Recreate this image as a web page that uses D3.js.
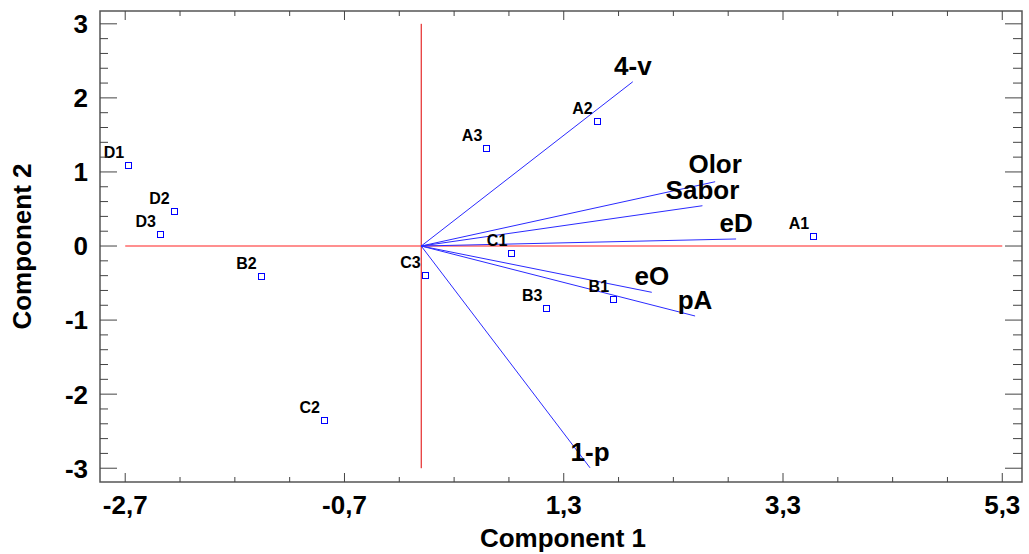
<!DOCTYPE html>
<html>
<head>
<meta charset="utf-8">
<script src="https://cdn.jsdelivr.net/npm/d3@7"></script>
<style>
  body { margin: 0; background: #fff; }
  svg { display: block; font-family: "Liberation Sans", Arial, sans-serif; }
</style>
</head>
<body>
<div id="chart"></div>
<script>
// observations (scores)
const obsNames = ['A1', 'A2', 'A3', 'B1', 'B2', 'B3', 'C1', 'C2', 'C3', 'D1', 'D2', 'D3'];
const obsPC1 = [3.584, 1.610, 0.603, 1.759, -1.455, 1.151, 0.831, -0.878, 0.041, -2.663, -2.249, -2.374];
const obsPC2 = [0.126, 1.678, 1.310, -0.733, -0.414, -0.850, -0.108, -2.358, -0.405, 1.084, 0.463, 0.148];

// variables (loadings, scaled)
const varNames = ['4-v', 'Olor', 'Sabor', 'eD', 'eO', 'pA', '1-p'];
const varPC1 = [1.930, 2.681, 2.565, 2.872, 2.103, 2.498, 1.540];
const varPC2 = [2.218, 0.868, 0.544, 0.095, -0.625, -0.945, -2.995];

const xTicks = [-2.7, -0.7, 1.3, 3.3, 5.3];
const yTicks = [-3, -2, -1, 0, 1, 2, 3];

const W = 1029, H = 554;
const pL = 100, pR = 1022, pT = 11, pB = 482;

const svg = d3.select('#chart').append('svg')
    .attr('width', W)
    .attr('height', H);

const x = d3.scaleLinear().domain([-2.93, 5.48]).range([pL, pR]);
const y = d3.scaleLinear().domain([-3.186, 3.173]).range([pB, pT]);

const big = '26px';
const fmtX = d => d.toFixed(1).replace('.', ',');

// reference lines through the origin
svg.append('line')
    .attr('x1', x(-2.7)).attr('x2', x(5.3))
    .attr('y1', y(0)).attr('y2', y(0))
    .attr('stroke', '#ff2020').attr('stroke-width', 1.2);
svg.append('line')
    .attr('x1', x(0)).attr('x2', x(0))
    .attr('y1', y(3)).attr('y2', y(-3))
    .attr('stroke', '#e00000').attr('stroke-width', 1);

// vectors
svg.selectAll('line.vec')
    .data(varNames)
    .enter().append('line')
    .attr('class', 'vec')
    .attr('x1', x(0)).attr('y1', y(0))
    .attr('x2', (d, i) => x(varPC1[i]))
    .attr('y2', (d, i) => y(varPC2[i]))
    .attr('stroke', '#2a2aff').attr('stroke-width', 1);

svg.selectAll('text.vlab')
    .data(varNames)
    .enter().append('text')
    .attr('class', 'vlab')
    .attr('x', (d, i) => x(varPC1[i]))
    .attr('y', (d, i) => y(varPC2[i]) - (d === 'Olor' ? 9 : 7))
    .attr('text-anchor', 'middle')
    .style('font-size', big).style('font-weight', 'bold')
    .text(d => d);

// points
svg.selectAll('rect.pt')
    .data(obsNames)
    .enter().append('rect')
    .attr('class', 'pt')
    .attr('x', (d, i) => Math.round(x(obsPC1[i])) - 3.5)
    .attr('y', (d, i) => Math.round(y(obsPC2[i])) - 3.5)
    .attr('width', 6).attr('height', 6)
    .attr('fill', '#fff').attr('stroke', '#0000ff').attr('stroke-width', 1);

svg.selectAll('text.plab')
    .data(obsNames)
    .enter().append('text')
    .attr('class', 'plab')
    .attr('x', (d, i) => x(obsPC1[i]) - 5)
    .attr('y', (d, i) => y(obsPC2[i]) - 8)
    .attr('text-anchor', 'end')
    .style('font-size', '16px').style('font-weight', 'bold')
    .text(d => d);

// frame
svg.append('rect')
    .attr('x', pL).attr('y', pT)
    .attr('width', pR - pL).attr('height', pB - pT)
    .attr('fill', 'none').attr('stroke', '#555').attr('stroke-width', 1.5);

// ticks
const xMinor = d3.range(-2.7, 5.31, 0.5);
const yMinor = d3.range(-3, 3.01, 0.2);
const tickColor = '#444';

svg.selectAll('line.xt')
    .data(xMinor)
    .enter().append('line')
    .attr('class', 'xt')
    .attr('x1', d => x(d)).attr('x2', d => x(d))
    .attr('y1', pB)
    .attr('y2', (d, i) => pB - (i % 4 === 0 ? 9 : 5))
    .attr('stroke', tickColor);
svg.selectAll('line.xtt')
    .data(xMinor)
    .enter().append('line')
    .attr('class', 'xtt')
    .attr('x1', d => x(d)).attr('x2', d => x(d))
    .attr('y1', pT)
    .attr('y2', (d, i) => pT + (i % 4 === 0 ? 9 : 5))
    .attr('stroke', tickColor);
svg.selectAll('line.yt')
    .data(yMinor)
    .enter().append('line')
    .attr('class', 'yt')
    .attr('y1', d => y(d)).attr('y2', d => y(d))
    .attr('x1', pL)
    .attr('x2', (d, i) => pL + (i % 5 === 0 ? 17 : 8))
    .attr('stroke', tickColor);
svg.selectAll('line.ytr')
    .data(yMinor)
    .enter().append('line')
    .attr('class', 'ytr')
    .attr('y1', d => y(d)).attr('y2', d => y(d))
    .attr('x1', pR)
    .attr('x2', (d, i) => pR - (i % 5 === 0 ? 17 : 9))
    .attr('stroke', tickColor);

// tick labels
svg.selectAll('text.xl')
    .data(xTicks)
    .enter().append('text')
    .attr('class', 'xl')
    .attr('x', d => x(d)).attr('y', 514)
    .attr('text-anchor', 'middle')
    .style('font-size', big).style('font-weight', 'bold')
    .text(fmtX);
svg.selectAll('text.yl')
    .data(yTicks)
    .enter().append('text')
    .attr('class', 'yl')
    .attr('x', 88).attr('y', d => y(d))
    .attr('dy', '0.36em')
    .attr('text-anchor', 'end')
    .style('font-size', big).style('font-weight', 'bold')
    .text(d => d);

// axis titles
svg.append('text')
    .attr('x', 563).attr('y', 547)
    .attr('text-anchor', 'middle')
    .style('font-size', big).style('font-weight', 'bold')
    .text('Component 1');
svg.append('text')
    .attr('transform', 'translate(31,' + (pT + pB) / 2 + ') rotate(-90)')
    .attr('text-anchor', 'middle')
    .style('font-size', big).style('font-weight', 'bold')
    .text('Component 2');
</script>
</body>
</html>
